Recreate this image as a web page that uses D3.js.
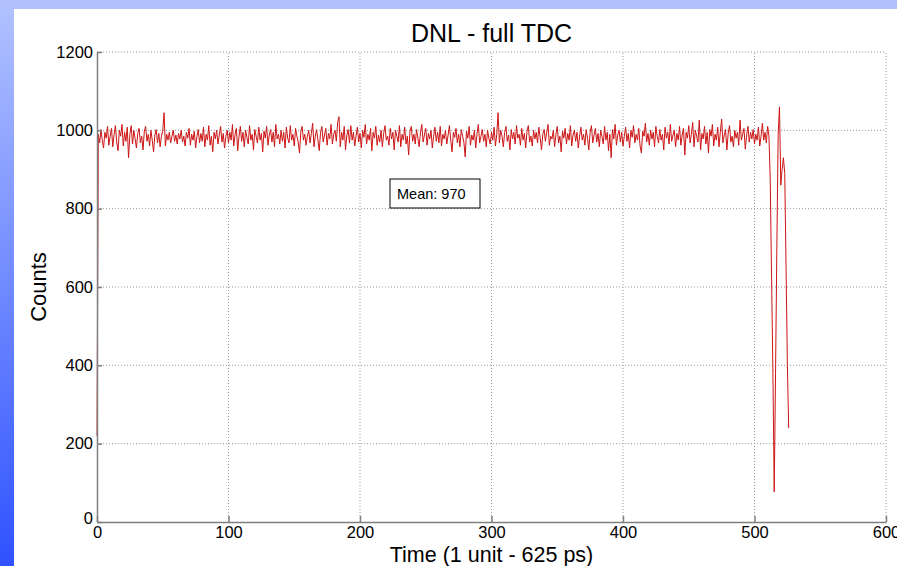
<!DOCTYPE html>
<html>
<head>
<meta charset="utf-8">
<script src="https://cdnjs.cloudflare.com/ajax/libs/d3/7.8.5/d3.min.js"></script>
<style>
  html, body { margin: 0; padding: 0; background: #fff; }
  svg { display: block; }
  text { font-family: "Liberation Sans", Arial, sans-serif; }
</style>
</head>
<body>
<svg id="chart" width="897" height="566"></svg>
<script>
// chart text
const title = "DNL - full TDC";
const xLabel = "Time (1 unit - 625 ps)";
const yLabel = "Counts";
const meanLabel = "Mean: 970";

// tick values
const xTicks = [0, 100, 200, 300, 400, 500, 600];
const yTicks = [0, 200, 400, 600, 800, 1000, 1200];

// counts per time bin, bin 0 .. 526
const counts = [
  220,
  990, 968, 1002, 975, 955, 995, 980, 1010, 962, 985, 1005, 958, 990, 1012, 970, 948, 1000, 985, 1015, 960,
  995, 972, 1008, 930, 990, 1012, 965, 1000, 978, 955, 992, 1005, 968, 985, 950, 998, 1010, 972, 990, 960,
  1000, 975, 945, 988, 1002, 968, 992, 958, 985, 1000, 1045, 960, 990, 975, 995, 968, 985, 1000, 972, 988,
  965, 992, 978, 1000, 970, 985, 960, 995, 980, 1005, 962, 990, 975, 998, 955, 985, 1002, 968, 992, 972,
  1008, 958, 990, 975, 1012, 962, 985, 945, 995, 978, 1000, 965, 988, 1010, 970, 992, 955, 985, 1000, 968,
  995, 975, 1015, 960, 990, 1005, 948, 985, 1010, 972, 995, 958, 1000, 982, 965, 1012, 975, 990, 950, 1002,
  985, 968, 1008, 975, 992, 945, 998, 980, 1010, 962, 988, 1002, 970, 995, 958, 1015, 978, 990, 965, 1000,
  972, 995, 955, 1008, 980, 968, 1012, 975, 990, 960, 1005, 985, 970, 942, 998, 1010, 975, 990, 962, 985,
  1000, 968, 992, 1018, 958, 985, 1002, 975, 948, 995, 1010, 970, 988, 1005, 962, 992, 978, 1015, 965, 990,
  1000, 972, 1020, 1035, 958, 995, 975, 1010, 950, 988, 1002, 968, 1012, 975, 995, 960, 985, 1008, 970, 992,
  955, 1000, 982, 1015, 965, 990, 975, 1005, 948, 995, 980, 1010, 962, 988, 970, 1000, 958, 992, 1012, 975,
  985, 962, 1005, 978, 995, 950, 1000, 985, 970, 1012, 958, 990, 975, 1008, 965, 985, 937, 998, 1010, 972,
  990, 965, 1002, 980, 958, 995, 1015, 970, 988, 1005, 962, 992, 978, 1000, 955, 985, 1008, 972, 995, 968,
  1010, 960, 990, 978, 1000, 965, 988, 1012, 975, 945, 995, 982, 1005, 968, 990, 958, 1002, 985, 970, 932,
  998, 980, 1010, 962, 988, 975, 1000, 955, 992, 1015, 968, 985, 1002, 972, 990, 958, 1000, 980, 965, 995,
  975, 1008, 960, 990, 1045, 968, 1000, 985, 958, 995, 1010, 972, 988, 950, 1002, 978, 995, 965, 1012, 980,
  990, 962, 1005, 975, 992, 955, 998, 1012, 970, 985, 960, 1000, 978, 995, 968, 1008, 982, 950, 990, 1002,
  972, 995, 1015, 962, 985, 978, 1000, 958, 990, 1010, 968, 985, 945, 998, 980, 1005, 965, 992, 975, 1012,
  960, 988, 1000, 972, 995, 955, 985, 1008, 975, 990, 962, 1002, 980, 950, 995, 1012, 968, 988, 1005, 970,
  992, 958, 1000, 985, 965, 1010, 975, 995, 948, 990, 930, 1002, 978, 1015, 962, 988, 1000, 970, 995, 960,
  985, 1008, 972, 992, 955, 1000, 982, 1012, 968, 990, 975, 1005, 960, 942, 998, 985, 1018, 970, 992, 962,
  1000, 978, 995, 958, 1010, 985, 968, 1002, 975, 990, 950, 1008, 980, 995, 965, 1015, 972, 988, 1000, 958,
  992, 975, 1010, 962, 988, 1005, 937, 995, 980, 1012, 968, 990, 1020, 958, 1000, 985, 970, 1026, 950, 992,
  978, 1010, 965, 995, 942, 1002, 985, 1015, 960, 990, 975, 1008, 958, 995, 1029, 968, 988, 1002, 950, 992,
  1012, 970, 985, 958, 1000, 980, 995, 962, 1026, 975, 990, 1005, 952, 988, 1010, 970, 995, 978, 1002, 965,
  990, 975, 1008, 960, 985, 1018, 975, 995, 968, 1010, 985,
  870, 620, 380, 77, 380, 700, 990, 1060, 860, 900, 930, 890, 650, 400, 240
];

const svg = d3.select("#chart");
const W = 897, H = 566;

// blue slide background round the white figure
const defs = svg.append("defs");
const grad = defs.append("linearGradient")
  .attr("id", "side").attr("x1", 0).attr("y1", 0).attr("x2", 0).attr("y2", 1);
grad.append("stop").attr("offset", "0%").attr("stop-color", "#b2c2ff");
grad.append("stop").attr("offset", "100%").attr("stop-color", "#2f52ff");
svg.append("rect").attr("x", 0).attr("y", 0).attr("width", W).attr("height", H).attr("fill", "url(#side)");
svg.append("rect").attr("x", 0).attr("y", 0).attr("width", W).attr("height", 9).attr("fill", "#b0c0ff");
svg.append("rect").attr("x", 14).attr("y", 9).attr("width", W - 14).attr("height", H - 9).attr("fill", "#fff");

const margin = {left: 97, right: 11, top: 52, bottom: 44};
const x = d3.scaleLinear().domain([0, 600]).range([margin.left, W - margin.right]);
const y = d3.scaleLinear().domain([0, 1200]).range([H - margin.bottom, margin.top]);

// dotted grid
const grid = svg.append("g").attr("stroke", "#9a9a9a").attr("stroke-width", 1)
  .attr("stroke-dasharray", "1,2");
grid.selectAll("line.vx").data(xTicks.slice(1)).join("line")
  .attr("x1", d => x(d)).attr("x2", d => x(d))
  .attr("y1", y(0)).attr("y2", y(1200));
grid.selectAll("line.hy").data(yTicks.slice(1)).join("line")
  .attr("x1", x(0)).attr("x2", x(600))
  .attr("y1", d => y(d)).attr("y2", d => y(d));

// the trace
const line = d3.line().x((d, i) => x(i)).y(d => y(d));
svg.append("path").datum(counts)
  .attr("d", line)
  .attr("fill", "none")
  .attr("stroke", "#cc1515")
  .attr("stroke-width", 1)
  .attr("stroke-linejoin", "round");

// axes
const fmt = d3.format("d");
const xAxis = svg.append("g").attr("transform", `translate(0,${y(0)})`)
  .call(d3.axisBottom(x).tickValues(xTicks).tickFormat(fmt)
    .tickSizeInner(-6).tickSizeOuter(0).tickPadding(4));
const yAxis = svg.append("g").attr("transform", `translate(${x(0)},0)`)
  .call(d3.axisLeft(y).tickValues(yTicks).tickFormat(fmt)
    .tickSizeInner(-5).tickSizeOuter(0).tickPadding(4));
[xAxis, yAxis].forEach(a => {
  a.select(".domain").attr("stroke", "#7f7f7f").attr("stroke-width", 1.5);
  a.selectAll(".tick line").attr("stroke", "#7f7f7f").attr("stroke-width", 1.5);
  a.selectAll(".tick text").attr("font-size", 16.5).attr("fill", "#000")
    .attr("font-family", "Liberation Sans, Arial, sans-serif");
});
yAxis.selectAll(".tick").filter(d => d === 0).select("text").attr("dy", "0.1em");

// titles
svg.append("text").attr("x", x(300)).attr("y", 42)
  .attr("text-anchor", "middle").attr("font-size", 25).text(title);
svg.append("text").attr("x", x(300)).attr("y", 562)
  .attr("text-anchor", "middle").attr("font-size", 21.5).text(xLabel);
svg.append("text").attr("transform", `translate(46,${y(600)}) rotate(-90)`)
  .attr("text-anchor", "middle").attr("font-size", 22).text(yLabel);

// mean annotation
const box = svg.append("g").attr("transform", "translate(390,179)");
box.append("rect").attr("width", 90).attr("height", 29)
  .attr("fill", "#fff").attr("stroke", "#000").attr("stroke-width", 1);
box.append("text").attr("x", 7).attr("y", 20).attr("font-size", 14.5).text(meanLabel);
</script>
</body>
</html>
